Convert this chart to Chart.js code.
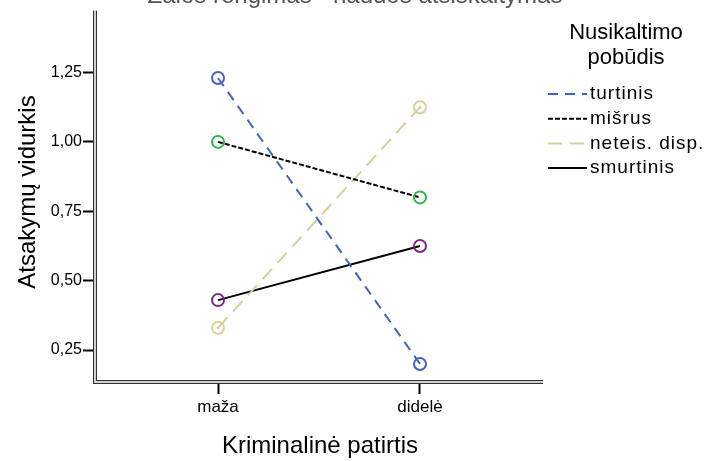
<!DOCTYPE html>
<html lang="lt">
<head>
  <meta charset="UTF-8">
  <title>Atsakymų vidurkis</title>
  <script src="https://cdn.jsdelivr.net/npm/chart.js"></script>
  <style>
    body { margin: 0; background: #fff; }
    canvas { display: block; }
  </style>
</head>
<body>
  <canvas id="chart" width="706" height="461"></canvas>
  <script>
    // data
    const categories = ['maža', 'didelė'];
    const seriesNames = ['turtinis', 'mišrus', 'neteis. disp.', 'smurtinis'];
    const turtinis = [1.23, 0.20];
    const misrus = [1.00, 0.80];
    const neteis = [0.33, 1.125];
    const smurtinis = [0.43, 0.625];
    const yTicks = [0.25, 0.50, 0.75, 1.00, 1.25];

    const FONT = 'Liberation Sans, Arial, sans-serif';

    function pts(arr) {
      return categories.map((c, i) => ({ x: i, y: arr[i] }));
    }

    function series(label, values, line, marker, dash, width) {
      return {
        label: label,
        data: pts(values),
        borderColor: line,
        borderDash: dash,
        borderWidth: width,
        pointRadius: 6,
        pointHoverRadius: 6,
        pointBorderWidth: 2,
        pointBorderColor: marker,
        pointBackgroundColor: 'rgba(0,0,0,0)',
        fill: false,
        tension: 0
      };
    }

    // double framed axes, titles and legend drawn by hand
    const decor = {
      id: 'decor',
      afterDatasetsDraw(chart) {
        const ctx = chart.ctx;
        const a = chart.chartArea;
        ctx.save();

        // axis frame
        ctx.fillStyle = '#cfcfcf';
        ctx.fillRect(a.left + 1, a.top, 2, a.bottom - a.top);
        ctx.fillRect(a.left, a.bottom - 3, a.right - a.left, 2);
        ctx.strokeStyle = '#333';
        ctx.lineWidth = 1;
        ctx.beginPath();
        ctx.moveTo(a.left + 0.5, a.top); ctx.lineTo(a.left + 0.5, a.bottom);
        ctx.moveTo(a.left + 3.5, a.top); ctx.lineTo(a.left + 3.5, a.bottom - 3);
        ctx.moveTo(a.left, a.bottom - 0.5); ctx.lineTo(a.right, a.bottom - 0.5);
        ctx.moveTo(a.left + 3, a.bottom - 3.5); ctx.lineTo(a.right, a.bottom - 3.5);
        ctx.stroke();

        // little dot inside the beige markers
        const meta = chart.getDatasetMeta(2);
        ctx.fillStyle = '#d6d09a';
        meta.data.forEach(p => {
          ctx.beginPath();
          ctx.arc(p.x, p.y, 1.5, 0, Math.PI * 2);
          ctx.fill();
        });

        // cut-off chart title
        ctx.fillStyle = '#555';
        ctx.font = '24px ' + FONT;
        ctx.textAlign = 'center';
        ctx.textBaseline = 'alphabetic';
        ctx.fillText('Žalos rengimas - naudos atsiskaitymas', 355, 3);

        // axis titles
        ctx.fillStyle = '#000';
        ctx.fillText('Kriminalinė patirtis', 320, 453);
        ctx.save();
        ctx.translate(28, 192);
        ctx.rotate(-Math.PI / 2);
        ctx.textBaseline = 'middle';
        ctx.fillText('Atsakymų vidurkis', 0, 0);
        ctx.restore();

        // legend
        ctx.font = '22px ' + FONT;
        ctx.textBaseline = 'middle';
        ctx.fillText('Nusikaltimo', 626, 33);
        ctx.fillText('pobūdis', 626, 58);
        ctx.font = '19px ' + FONT;
        ctx.letterSpacing = '1px';
        ctx.textAlign = 'left';
        chart.data.datasets.forEach((ds, i) => {
          const y = 94 + i * 24.7;
          ctx.strokeStyle = ds.borderColor;
          ctx.lineWidth = 2;
          ctx.setLineDash(ds.borderDash || []);
          ctx.beginPath();
          ctx.moveTo(548, y);
          ctx.lineTo(587, y);
          ctx.stroke();
          ctx.setLineDash([]);
          ctx.fillStyle = '#000';
          ctx.fillText(ds.label, 590, y);
        });
        ctx.restore();
      }
    };

    new Chart(document.getElementById('chart'), {
      type: 'line',
      data: {
        datasets: [
          series(seriesNames[0], turtinis, '#4462c0', '#4462c0', [10, 7], 2),
          series(seriesNames[1], misrus, '#000', '#2cb84a', [5, 2], 2),
          series(seriesNames[2], neteis, '#d6d09a', '#d6d09a', [14, 8], 2),
          series(seriesNames[3], smurtinis, '#000', '#7b2c80', [], 2)
        ]
      },
      options: {
        responsive: false,
        animation: false,
        layout: { padding: { top: 10, right: 163, bottom: 0, left: 0 } },
        plugins: {
          legend: { display: false },
          tooltip: { enabled: false }
        },
        scales: {
          x: {
            type: 'linear',
            min: -0.619,
            max: 1.609,
            afterFit: s => { s.height = 77; },
            afterBuildTicks: s => { s.ticks = categories.map((c, i) => ({ value: i })); },
            border: { display: false },
            grid: { drawOnChartArea: false, drawTicks: true, tickLength: 10, tickWidth: 2, tickColor: '#000' },
            ticks: {
              color: '#000',
              padding: 3,
              font: { family: FONT, size: 17 },
              callback: v => categories[v]
            }
          },
          y: {
            type: 'linear',
            min: 0.1277,
            max: 1.473,
            afterFit: s => { s.width = 93; },
            afterBuildTicks: s => { s.ticks = yTicks.map(v => ({ value: v })); },
            border: { display: false },
            grid: { drawOnChartArea: false, drawTicks: true, tickLength: 10, tickWidth: 2, tickColor: '#000' },
            ticks: {
              color: '#000',
              padding: 1,
              font: { family: FONT, size: 16 },
              callback: v => v.toFixed(2).replace('.', ',')
            }
          }
        }
      },
      plugins: [decor]
    });
  </script>
</body>
</html>
